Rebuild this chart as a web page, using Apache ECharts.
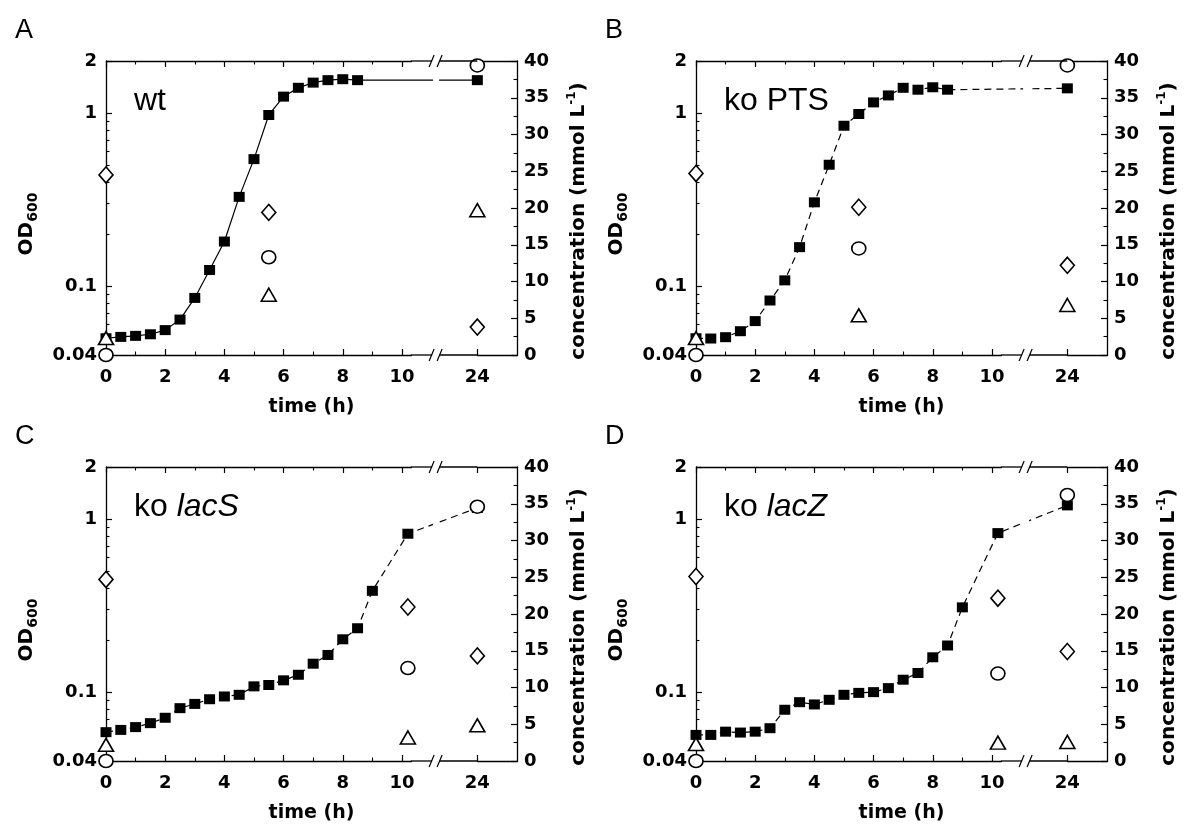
<!DOCTYPE html>
<html><head><meta charset="utf-8">
<script src="https://cdn.jsdelivr.net/npm/echarts@6/dist/echarts.min.js"></script>
<style>html,body{margin:0;padding:0;background:#fff}#c{width:1200px;height:833px}</style>
</head><body><div id="c"></div>
<script>
// ---- data ----
const xTickLabels = [0, 2, 4, 6, 8, 10, 24];
const xMinorTicks = [1, 3, 5, 7, 9];
const odTickLabels = [0.04, 0.1, 1, 2];
const panelLetters = ['A', 'B', 'C', 'D'];

const timeAB = [0,0.5,1,1.5,2,2.5,3,3.5,4,4.5,5,5.5,6,6.5,7,7.5,8,8.5,24];
const odA = [0.050,0.0509,0.0516,0.0527,0.0557,0.0641,0.0855,0.124,0.181,0.328,0.542,0.975,1.245,1.40,1.50,1.55,1.57,1.55,1.55];
const odB = [0.050,0.0498,0.0507,0.0549,0.0628,0.0826,0.108,0.168,0.305,0.503,0.845,0.988,1.153,1.265,1.40,1.365,1.41,1.365,1.39];
const timeCD = [0,0.5,1,1.5,2,2.5,3,3.5,4,4.5,5,5.5,6,6.5,7,7.5,8,8.5,9,10.2,24];
const odC = [0.0587,0.0605,0.0628,0.0662,0.0711,0.0808,0.0855,0.091,0.0944,0.0965,0.108,0.110,0.117,0.126,0.146,0.164,0.202,0.234,0.385,0.823,1.16];
const odD = [0.0566,0.0566,0.0591,0.0584,0.0591,0.0619,0.0791,0.0875,0.0849,0.0903,0.0965,0.099,0.100,0.1055,0.118,0.129,0.159,0.186,0.309,0.830,1.20];

const sampleAB = [0, 5.5, 24];
const sampleCD = [0, 10.2, 24];
const diamondA = [24.5, 19.4, 3.8];
const circleA = [0, 13.3, 39.4];
const triangleA = [2.3, 8.2, 19.7];
const diamondB = [24.7, 20.1, 12.2];
const circleB = [0, 14.5, 39.4];
const triangleB = [2.3, 5.4, 6.8];
const diamondC = [24.7, 20.95, 14.3];
const circleC = [0, 12.65, 34.6];
const triangleC = [2.2, 3.2, 4.85];
const diamondD = [25.1, 22.15, 14.9];
const circleD = [0, 11.9, 36.2];
const triangleD = [2.3, 2.5, 2.6];

// ---- layout / style ----
const panels = [
  {t: timeAB, od: odA, s: sampleAB, dia: diamondA, cir: circleA, tri: triangleA, dashed: false, left: 106, top: 61, name: [['n','wt']]},
  {t: timeAB, od: odB, s: sampleAB, dia: diamondB, cir: circleB, tri: triangleB, dashed: true, left: 696, top: 61, name: [['n','ko PTS']]},
  {t: timeCD, od: odC, s: sampleCD, dia: diamondC, cir: circleC, tri: triangleC, dashed: true, left: 106, top: 467, name: [['n','ko '],['i','lacS']]},
  {t: timeCD, od: odD, s: sampleCD, dia: diamondD, cir: circleD, tri: triangleD, dashed: true, left: 696, top: 467, name: [['n','ko '],['i','lacZ']]}
];
const GW = 411, GH = 294;
const XMAX = 25.34, BRK_START = 10.3, BRK_END = 24;
const NUMFONT = 'DejaVu Sans';
const black = '#000';

const grids = [], xAxes = [], yAxes = [], series = [];
const labelStyle = {fontFamily: NUMFONT, fontWeight: 'bold', fontSize: 18, color: black};

panels.forEach((p, i) => {
  grids.push({left: p.left, top: p.top, width: GW, height: GH});
  const xBase = {
    type: 'value', gridIndex: i, min: 0, max: XMAX,
    breaks: [{start: BRK_START, end: BRK_END, gap: '16.18%'}],
    breakArea: {show: false, expandOnClick: false},
    axisLine: {show: true, onZero: false, lineStyle: {color: black, width: 1.3}},
    axisTick: {show: true, inside: true, length: 6, customValues: xTickLabels, lineStyle: {color: black, width: 1.2}},
    minorTick: {show: false},
    splitLine: {show: false}
  };
  const xMinor = Object.assign({}, xBase, {
    axisLine: {show: false, onZero: false},
    axisTick: {show: true, inside: true, length: 3.5, customValues: xMinorTicks, lineStyle: {color: black, width: 1.1}},
    axisLabel: {show: false}
  });
  xAxes.push(Object.assign({}, xBase, {
    position: 'bottom',
    axisLabel: Object.assign({margin: 13, customValues: xTickLabels, formatter: v => String(v)}, labelStyle),
    name: 'time (h)', nameLocation: 'middle', nameGap: 43,
    nameTextStyle: {fontFamily: NUMFONT, fontWeight: 'bold', fontSize: 19, color: black}
  }));
  xAxes.push(Object.assign({}, xBase, {position: 'top', axisLabel: {show: false}}));
  xAxes.push(Object.assign({}, xMinor, {position: 'bottom'}));
  xAxes.push(Object.assign({}, xMinor, {position: 'top'}));
  yAxes.push({
    type: 'log', logBase: 10, gridIndex: i, min: 0.04, max: 2, position: 'left',
    axisLine: {show: true, onZero: false, lineStyle: {color: black, width: 1.3}},
    axisTick: {show: true, inside: true, length: 6, lineStyle: {color: black, width: 1.2}},
    minorTick: {show: true, splitNumber: 9, length: 3.5, lineStyle: {color: black, width: 1.1}},
    splitLine: {show: false}, minorSplitLine: {show: false},
    axisLabel: Object.assign({margin: 9, formatter: v => {
      const r = odTickLabels.find(t => Math.abs(t - v) / t < 1e-6);
      return r === undefined ? '' : String(r);
    }}, labelStyle),
    name: '{m|OD}{s|600}', nameLocation: 'middle', nameGap: 66, nameRotate: 90,
    nameTextStyle: {padding: [0, 32, 0, 0], rich: {
      m: {fontFamily: NUMFONT, fontWeight: 'bold', fontSize: 20, lineHeight: 26, verticalAlign: 'middle', color: black},
      s: {fontFamily: NUMFONT, fontWeight: 'bold', fontSize: 14, lineHeight: 16, verticalAlign: 'bottom', color: black}
    }}
  });
  yAxes.push({
    type: 'value', gridIndex: i, min: 0, max: 40, interval: 5, position: 'right',
    axisLine: {show: true, onZero: false, lineStyle: {color: black, width: 1.3}},
    axisTick: {show: true, inside: true, length: 6, lineStyle: {color: black, width: 1.2}},
    minorTick: {show: true, splitNumber: 2, length: 3.5, lineStyle: {color: black, width: 1.1}},
    splitLine: {show: false},
    axisLabel: Object.assign({margin: 7}, labelStyle),
    name: '{m|concentration (mmol L}{p|-1}{m|)}', nameLocation: 'middle', nameGap: 49, nameRotate: 90,
    nameTextStyle: {padding: [0, 26, 0, 0], rich: {
      m: {fontFamily: NUMFONT, fontWeight: 'bold', fontSize: 20, lineHeight: 26, verticalAlign: 'middle', color: black},
      p: {fontFamily: NUMFONT, fontWeight: 'bold', fontSize: 12, lineHeight: 12, verticalAlign: 'top', color: black}
    }}
  });
  series.push({
    type: 'line', xAxisIndex: 4 * i, yAxisIndex: 2 * i, clip: false, z: 3,
    data: p.t.map((t, k) => [t, p.od[k]]),
    symbol: 'rect', symbolSize: [11, 10], showAllSymbol: true,
    itemStyle: {color: black, opacity: 1},
    lineStyle: {color: black, width: 1.2, type: p.dashed ? [7, 5] : 'solid'}
  });
  const sc = (vals, sym, size) => ({
    type: 'scatter', xAxisIndex: 4 * i, yAxisIndex: 2 * i + 1, clip: false, z: 5,
    data: p.s.map((t, k) => [t, vals[k]]),
    symbol: sym, symbolSize: size,
    itemStyle: {color: '#fff', borderColor: black, borderWidth: 1.6, opacity: 1}
  });
  series.push(sc(p.dia, 'diamond', [14, 16]));
  series.push(sc(p.cir, 'circle', [14, 13]));
  series.push(sc(p.tri, 'triangle', [15, 13]));
});

const chart = echarts.init(document.getElementById('c'), null, {renderer: 'canvas'});
chart.setOption({
  animation: false, backgroundColor: '#fff',
  grid: grids, xAxis: xAxes, yAxis: yAxes, series: series
});

// texts and axis-break marks
const graphics = [];
panels.forEach((p, i) => {
  graphics.push({type: 'text', x: p.left - 91, y: p.top - 30, style: {text: panelLetters[i], font: '27px "Liberation Sans"', fill: black, textVerticalAlign: 'middle'}});
  const txt = p.name.map(([k, s]) => '{' + k + '|' + s + '}').join('');
  graphics.push({type: 'text', x: p.left + 28, y: p.top + 40, style: {text: txt, textVerticalAlign: 'middle', rich: {
    n: {fontFamily: 'Liberation Sans', fontSize: 32, fill: black},
    i: {fontFamily: 'Liberation Sans', fontSize: 32, fontStyle: 'italic', fill: black}
  }}});
  const xa = chart.convertToPixel({xAxisIndex: 4 * i}, BRK_START);
  const xb = chart.convertToPixel({xAxisIndex: 4 * i}, BRK_END);
  const mid = xa + 0.38 * (xb - xa);
  // white band through the plot at the break
  graphics.push({type: 'rect', shape: {x: mid - 3, y: p.top + 2, width: 6, height: GH - 4}, style: {fill: '#fff'}, z: 4});
  [p.top, p.top + GH].forEach(y => {
    graphics.push({type: 'line', shape: {x1: xa, y1: y, x2: mid - 4, y2: y}, style: {stroke: black, lineWidth: 1.3}, z: 6});
    graphics.push({type: 'line', shape: {x1: mid + 3.5, y1: y, x2: xb, y2: y}, style: {stroke: black, lineWidth: 1.3}, z: 6});
    graphics.push({type: 'line', shape: {x1: mid - 7, y1: y + 6, x2: mid - 2, y2: y - 6}, style: {stroke: black, lineWidth: 1.2}, z: 6});
    graphics.push({type: 'line', shape: {x1: mid + 1, y1: y + 6, x2: mid + 6, y2: y - 6}, style: {stroke: black, lineWidth: 1.2}, z: 6});
  });
});
chart.setOption({graphic: graphics});
</script></body></html>
